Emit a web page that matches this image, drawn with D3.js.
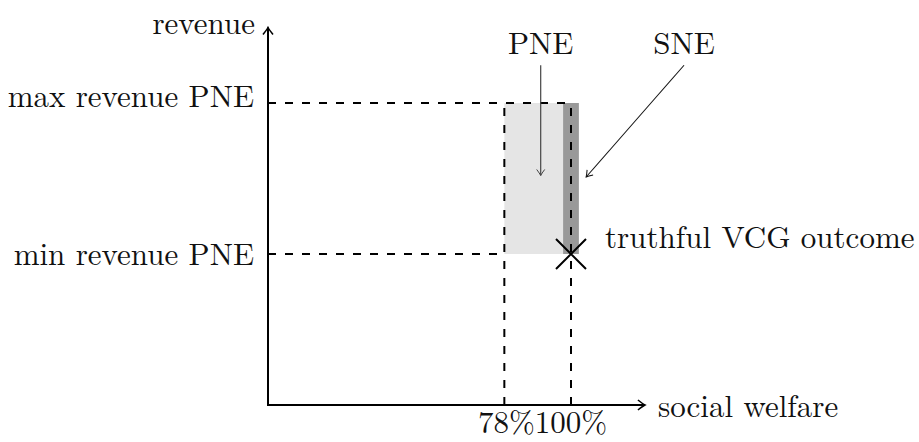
<!DOCTYPE html>
<html>
<head>
<meta charset="utf-8">
<script src="https://cdn.jsdelivr.net/npm/d3@7"></script>
<style>
  body { margin: 0; background: #fff; }
  text { font-family: "Latin Modern Roman", "CMU Serif", "Liberation Serif", serif; fill: #111; }
</style>
</head>
<body>
<svg width="919" height="442"></svg>
<script>
// welfare in % of optimum, revenue in units of min PNE revenue
var welfareTicks = [78, 100];
var welfareLabels = ["78%", "100%"];
var revenueLevels = [1, 2];
var revenueLabels = ["min revenue PNE", "max revenue PNE"];

var pneBox = {welfare: [78, 100], revenue: [1, 2]};
var sneBox = {welfare: [97.4, 102.6], revenue: [1, 2]};
var vcgPoint = [100, 1];

// callout arrows: [from, to] in data units
var pneArrow = [[90, 2.25], [90, 1.52]];
var sneArrow = [[137.3, 2.25], [105, 1.51]];

var svg = d3.select("svg");

var x = d3.scaleLinear().domain([0, 100]).range([268, 571]);
var y = d3.scaleLinear().domain([0, 2]).range([405, 103]);

var xMax = 124.4, yMax = 2.5;

//arrow heads
var defs = svg.append("defs");
defs.append("marker")
    .attr("id", "head")
    .attr("markerUnits", "userSpaceOnUse")
    .attr("viewBox", "-10 -7 12 14")
    .attr("markerWidth", 12).attr("markerHeight", 14)
    .attr("refX", 0).attr("refY", 0)
    .attr("orient", "auto")
  .append("path")
    .attr("d", "M-7,-5 Q-2,-1 0,0 Q-2,1 -7,5")
    .attr("fill", "none").attr("stroke", "#000").attr("stroke-width", 1.6);
defs.append("marker")
    .attr("id", "thin")
    .attr("markerUnits", "userSpaceOnUse")
    .attr("viewBox", "-10 -7 12 14")
    .attr("markerWidth", 12).attr("markerHeight", 14)
    .attr("refX", 0).attr("refY", 0)
    .attr("orient", "auto")
  .append("path")
    .attr("d", "M-6,-4 Q-2,-1 0,0 Q-2,1 -6,4")
    .attr("fill", "none").attr("stroke", "context-stroke").attr("stroke-width", 1);

//shaded equilibrium regions
svg.append("rect")
    .attr("x", x(pneBox.welfare[0]))
    .attr("y", y(pneBox.revenue[1]))
    .attr("width", x(pneBox.welfare[1]) - x(pneBox.welfare[0]))
    .attr("height", y(pneBox.revenue[0]) - y(pneBox.revenue[1]))
    .attr("fill", "#e5e5e5");
svg.append("rect")
    .attr("x", x(sneBox.welfare[0]))
    .attr("y", y(sneBox.revenue[1]))
    .attr("width", x(sneBox.welfare[1]) - x(sneBox.welfare[0]))
    .attr("height", y(sneBox.revenue[0]) - y(sneBox.revenue[1]))
    .attr("fill", "#999999");

//dashed guides
var dash = svg.append("g")
    .attr("stroke", "#000").attr("stroke-width", 2)
    .attr("stroke-dasharray", "8,9").attr("fill", "none");
welfareTicks.forEach(function(w) {
  dash.append("line")
      .attr("x1", x(w)).attr("x2", x(w))
      .attr("y1", y(0)).attr("y2", y(revenueLevels[1]));
});
dash.append("line")
    .attr("x1", x(0)).attr("x2", x(welfareTicks[1]))
    .attr("y1", y(revenueLevels[1])).attr("y2", y(revenueLevels[1]));
dash.append("line")
    .attr("x1", x(0)).attr("x2", x(welfareTicks[0]))
    .attr("y1", y(revenueLevels[0])).attr("y2", y(revenueLevels[0]));

//axes
svg.append("line")
    .attr("x1", x(0) - 1).attr("y1", y(0))
    .attr("x2", x(xMax)).attr("y2", y(0))
    .attr("stroke", "#000").attr("stroke-width", 2)
    .attr("marker-end", "url(#head)");
svg.append("line")
    .attr("x1", x(0)).attr("y1", y(0) + 1)
    .attr("x2", x(0)).attr("y2", y(yMax))
    .attr("stroke", "#000").attr("stroke-width", 2)
    .attr("marker-end", "url(#head)");

//VCG cross
var c = [x(vcgPoint[0]), y(vcgPoint[1])];
svg.append("path")
    .attr("d", "M" + (c[0] - 15) + "," + (c[1] - 15) + "L" + (c[0] + 15) + "," + (c[1] + 15) +
               "M" + (c[0] - 15) + "," + (c[1] + 15) + "L" + (c[0] + 15) + "," + (c[1] - 15))
    .attr("stroke", "#000").attr("stroke-width", 2);

//callouts
svg.append("line")
    .attr("x1", x(pneArrow[0][0])).attr("y1", y(pneArrow[0][1]))
    .attr("x2", x(pneArrow[1][0])).attr("y2", y(pneArrow[1][1]))
    .attr("stroke", "#444").attr("stroke-width", 1.2)
    .attr("marker-end", "url(#thin)");
svg.append("line")
    .attr("x1", x(sneArrow[0][0])).attr("y1", y(sneArrow[0][1]))
    .attr("x2", x(sneArrow[1][0])).attr("y2", y(sneArrow[1][1]))
    .attr("stroke", "#111").attr("stroke-width", 1.1)
    .attr("marker-end", "url(#thin)");

//text
var fs = 31;
svg.append("text").attr("x", 255).attr("y", 34)
    .attr("text-anchor", "end").attr("font-size", fs).text("revenue");
svg.selectAll(".rlab")
    .data(revenueLevels)
  .enter().append("text")
    .attr("class", "rlab")
    .attr("x", 254)
    .attr("y", function(d, i) { return y(d) + (i == 0 ? 11 : 4); })
    .attr("text-anchor", "end").attr("font-size", fs)
    .text(function(d, i) { return revenueLabels[i]; });
svg.selectAll(".wlab")
    .data(welfareTicks)
  .enter().append("text")
    .attr("class", "wlab")
    .attr("x", function(d) { return x(d) + (d == 78 ? 2 : 0); })
    .attr("y", 433)
    .attr("text-anchor", "middle").attr("font-size", fs)
    .text(function(d, i) { return welfareLabels[i]; });
svg.append("text").attr("x", 658).attr("y", 417)
    .attr("font-size", fs).text("social welfare");
svg.append("text").attr("x", 605).attr("y", 248)
    .attr("font-size", fs).text("truthful VCG outcome");
svg.append("text").attr("x", x(pneArrow[0][0])).attr("y", 54)
    .attr("text-anchor", "middle").attr("font-size", fs).text("PNE");
svg.append("text").attr("x", x(sneArrow[0][0])).attr("y", 54)
    .attr("text-anchor", "middle").attr("font-size", fs).text("SNE");
</script>
</body>
</html>
